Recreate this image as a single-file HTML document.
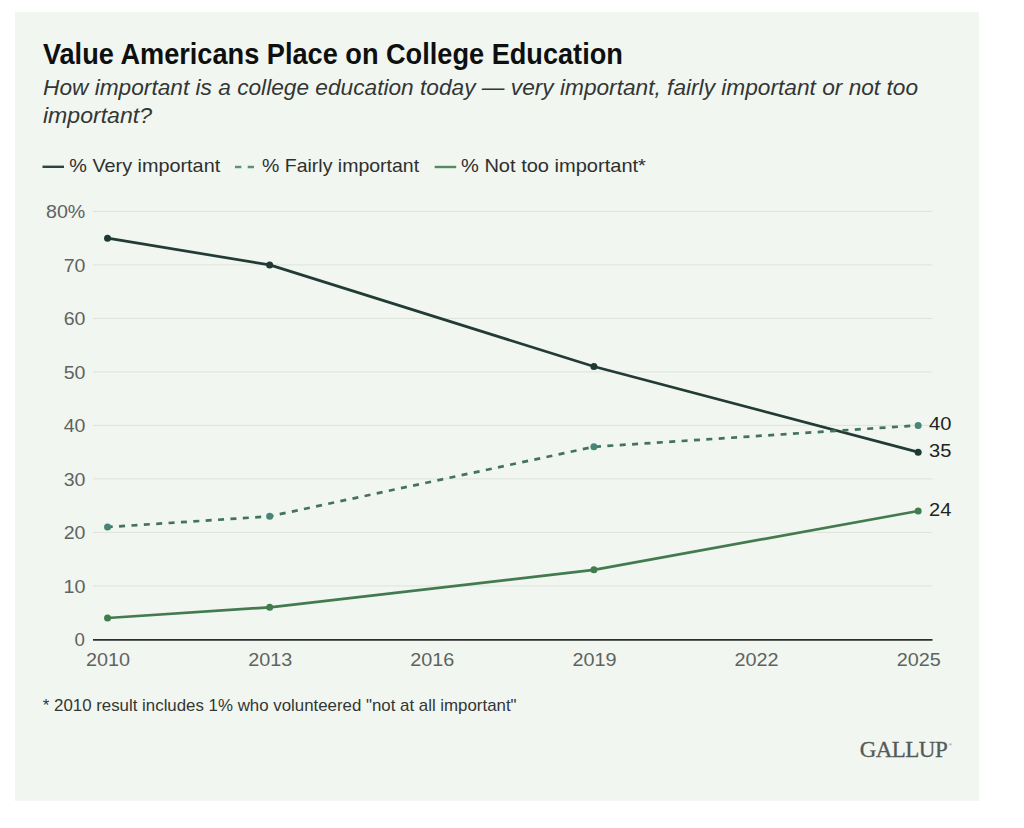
<!DOCTYPE html>
<html><head><meta charset="utf-8">
<style>
html,body{margin:0;padding:0;background:#fff;}
body{width:1024px;height:828px;position:relative;overflow:hidden;font-family:"Liberation Sans",sans-serif;}
#panel{position:absolute;left:15px;top:12px;width:964px;height:789px;background:#f1f6f0;}
svg{position:absolute;left:0;top:0;}
</style></head><body>
<div id="panel"></div>
<svg width="1024" height="828" viewBox="0 0 1024 828">
<line x1="93.0" x2="932.5" y1="585.90" y2="585.90" stroke="#dde2db" stroke-width="1"/>
<line x1="93.0" x2="932.5" y1="532.40" y2="532.40" stroke="#dde2db" stroke-width="1"/>
<line x1="93.0" x2="932.5" y1="478.90" y2="478.90" stroke="#dde2db" stroke-width="1"/>
<line x1="93.0" x2="932.5" y1="425.40" y2="425.40" stroke="#dde2db" stroke-width="1"/>
<line x1="93.0" x2="932.5" y1="371.90" y2="371.90" stroke="#dde2db" stroke-width="1"/>
<line x1="93.0" x2="932.5" y1="318.40" y2="318.40" stroke="#dde2db" stroke-width="1"/>
<line x1="93.0" x2="932.5" y1="264.90" y2="264.90" stroke="#dde2db" stroke-width="1"/>
<line x1="93.0" x2="932.5" y1="211.40" y2="211.40" stroke="#dde2db" stroke-width="1"/>
<line x1="93.0" x2="932.5" y1="639.8" y2="639.8" stroke="#2b2f2d" stroke-width="1.7"/>
<path d="M107.55,238.15 L269.67,264.90 L593.91,366.55 L918.15,452.15" fill="none" stroke="#233b36" stroke-width="2.7" stroke-linejoin="round"/>
<circle cx="107.55" cy="238.15" r="3.5" fill="#1f3a35"/>
<circle cx="269.67" cy="264.90" r="3.5" fill="#1f3a35"/>
<circle cx="593.91" cy="366.55" r="3.5" fill="#1f3a35"/>
<circle cx="918.15" cy="452.15" r="3.5" fill="#1f3a35"/>
<path d="M107.55,527.05 L269.67,516.35 L593.91,446.80 L918.15,425.40" fill="none" stroke="#43725f" stroke-width="2.7" stroke-linejoin="round" stroke-dasharray="6 6.4" stroke-dashoffset="0.85"/>
<circle cx="107.55" cy="527.05" r="3.5" fill="#468577"/>
<circle cx="269.67" cy="516.35" r="3.5" fill="#468577"/>
<circle cx="593.91" cy="446.80" r="3.5" fill="#468577"/>
<circle cx="918.15" cy="425.40" r="3.5" fill="#468577"/>
<path d="M107.55,618.00 L269.67,607.30 L593.91,569.85 L918.15,511.00" fill="none" stroke="#447a4f" stroke-width="2.7" stroke-linejoin="round"/>
<circle cx="107.55" cy="618.00" r="3.5" fill="#417d4b"/>
<circle cx="269.67" cy="607.30" r="3.5" fill="#417d4b"/>
<circle cx="593.91" cy="569.85" r="3.5" fill="#417d4b"/>
<circle cx="918.15" cy="511.00" r="3.5" fill="#417d4b"/>
<line x1="42.5" x2="64" y1="166.8" y2="166.8" stroke="#2a4540" stroke-width="2.4"/>
<line x1="235" x2="254.5" y1="167" y2="167" stroke="#5a927e" stroke-width="2.4" stroke-dasharray="6.3 6.4"/>
<line x1="434.7" x2="456.2" y1="167" y2="167" stroke="#558a5c" stroke-width="2.4"/>
<text x="948.5" y="746" font-family="Liberation Serif" font-size="5" fill="#555957">®</text>
<text x="42.90" y="63.70" font-family="Liberation Sans" font-size="29" font-weight="bold" font-style="normal" fill="#0e0f0f" textLength="580.00" lengthAdjust="spacingAndGlyphs">Value Americans Place on College Education</text>
<text x="43.00" y="95.00" font-family="Liberation Sans" font-size="22" font-weight="normal" font-style="italic" fill="#333635" textLength="875.01" lengthAdjust="spacingAndGlyphs">How important is a college education today — very important, fairly important or not too</text>
<text x="43.00" y="122.70" font-family="Liberation Sans" font-size="22" font-weight="normal" font-style="italic" fill="#333635" textLength="109.00" lengthAdjust="spacingAndGlyphs">important?</text>
<text x="69.30" y="172.00" font-family="Liberation Sans" font-size="19" font-weight="normal" font-style="normal" fill="#2e302f" textLength="150.86" lengthAdjust="spacingAndGlyphs">% Very important</text>
<text x="262.00" y="172.00" font-family="Liberation Sans" font-size="19" font-weight="normal" font-style="normal" fill="#2e302f" textLength="157.09" lengthAdjust="spacingAndGlyphs">% Fairly important</text>
<text x="461.00" y="172.00" font-family="Liberation Sans" font-size="19" font-weight="normal" font-style="normal" fill="#2e302f" textLength="184.93" lengthAdjust="spacingAndGlyphs">% Not too important*</text>
<text x="42.80" y="710.50" font-family="Liberation Sans" font-size="17" font-weight="normal" font-style="normal" fill="#333635" textLength="473.77" lengthAdjust="spacingAndGlyphs">* 2010 result includes 1% who volunteered &quot;not at all important&quot;</text>
<text x="859.70" y="757.30" font-family="Liberation Serif" font-size="23" font-weight="normal" font-style="normal" fill="#555957" stroke="#555957" stroke-width="0.3" textLength="88.01" lengthAdjust="spacing">GALLUP</text>
<text x="74.50" y="646.10" font-family="Liberation Sans" font-size="19" font-weight="normal" font-style="normal" fill="#5f6361" textLength="10.39" lengthAdjust="spacingAndGlyphs">0</text>
<text x="63.50" y="592.60" font-family="Liberation Sans" font-size="19" font-weight="normal" font-style="normal" fill="#5f6361" textLength="21.99" lengthAdjust="spacingAndGlyphs">10</text>
<text x="63.70" y="539.10" font-family="Liberation Sans" font-size="19" font-weight="normal" font-style="normal" fill="#5f6361" textLength="21.74" lengthAdjust="spacingAndGlyphs">20</text>
<text x="63.70" y="485.60" font-family="Liberation Sans" font-size="19" font-weight="normal" font-style="normal" fill="#5f6361" textLength="21.74" lengthAdjust="spacingAndGlyphs">30</text>
<text x="63.70" y="432.10" font-family="Liberation Sans" font-size="19" font-weight="normal" font-style="normal" fill="#5f6361" textLength="21.74" lengthAdjust="spacingAndGlyphs">40</text>
<text x="63.70" y="378.60" font-family="Liberation Sans" font-size="19" font-weight="normal" font-style="normal" fill="#5f6361" textLength="21.74" lengthAdjust="spacingAndGlyphs">50</text>
<text x="63.70" y="325.10" font-family="Liberation Sans" font-size="19" font-weight="normal" font-style="normal" fill="#5f6361" textLength="21.74" lengthAdjust="spacingAndGlyphs">60</text>
<text x="63.70" y="271.60" font-family="Liberation Sans" font-size="19" font-weight="normal" font-style="normal" fill="#5f6361" textLength="21.74" lengthAdjust="spacingAndGlyphs">70</text>
<text x="46.00" y="218.10" font-family="Liberation Sans" font-size="19" font-weight="normal" font-style="normal" fill="#5f6361" textLength="39.33" lengthAdjust="spacingAndGlyphs">80%</text>
<text x="86.05" y="666.30" font-family="Liberation Sans" font-size="19" font-weight="normal" font-style="normal" fill="#5f6361" textLength="44.09" lengthAdjust="spacingAndGlyphs">2010</text>
<text x="248.17" y="666.30" font-family="Liberation Sans" font-size="19" font-weight="normal" font-style="normal" fill="#5f6361" textLength="44.09" lengthAdjust="spacingAndGlyphs">2013</text>
<text x="410.29" y="666.30" font-family="Liberation Sans" font-size="19" font-weight="normal" font-style="normal" fill="#5f6361" textLength="44.09" lengthAdjust="spacingAndGlyphs">2016</text>
<text x="572.41" y="666.30" font-family="Liberation Sans" font-size="19" font-weight="normal" font-style="normal" fill="#5f6361" textLength="44.09" lengthAdjust="spacingAndGlyphs">2019</text>
<text x="734.53" y="666.30" font-family="Liberation Sans" font-size="19" font-weight="normal" font-style="normal" fill="#5f6361" textLength="44.09" lengthAdjust="spacingAndGlyphs">2022</text>
<text x="896.65" y="666.30" font-family="Liberation Sans" font-size="19" font-weight="normal" font-style="normal" fill="#5f6361" textLength="44.09" lengthAdjust="spacingAndGlyphs">2025</text>
<text x="929.00" y="430.20" font-family="Liberation Sans" font-size="19" font-weight="normal" font-style="normal" fill="#222424" textLength="22.35" lengthAdjust="spacingAndGlyphs">40</text>
<text x="929.00" y="456.95" font-family="Liberation Sans" font-size="19" font-weight="normal" font-style="normal" fill="#222424" textLength="22.35" lengthAdjust="spacingAndGlyphs">35</text>
<text x="929.00" y="515.80" font-family="Liberation Sans" font-size="19" font-weight="normal" font-style="normal" fill="#222424" textLength="22.35" lengthAdjust="spacingAndGlyphs">24</text>
</svg>
</body></html>
